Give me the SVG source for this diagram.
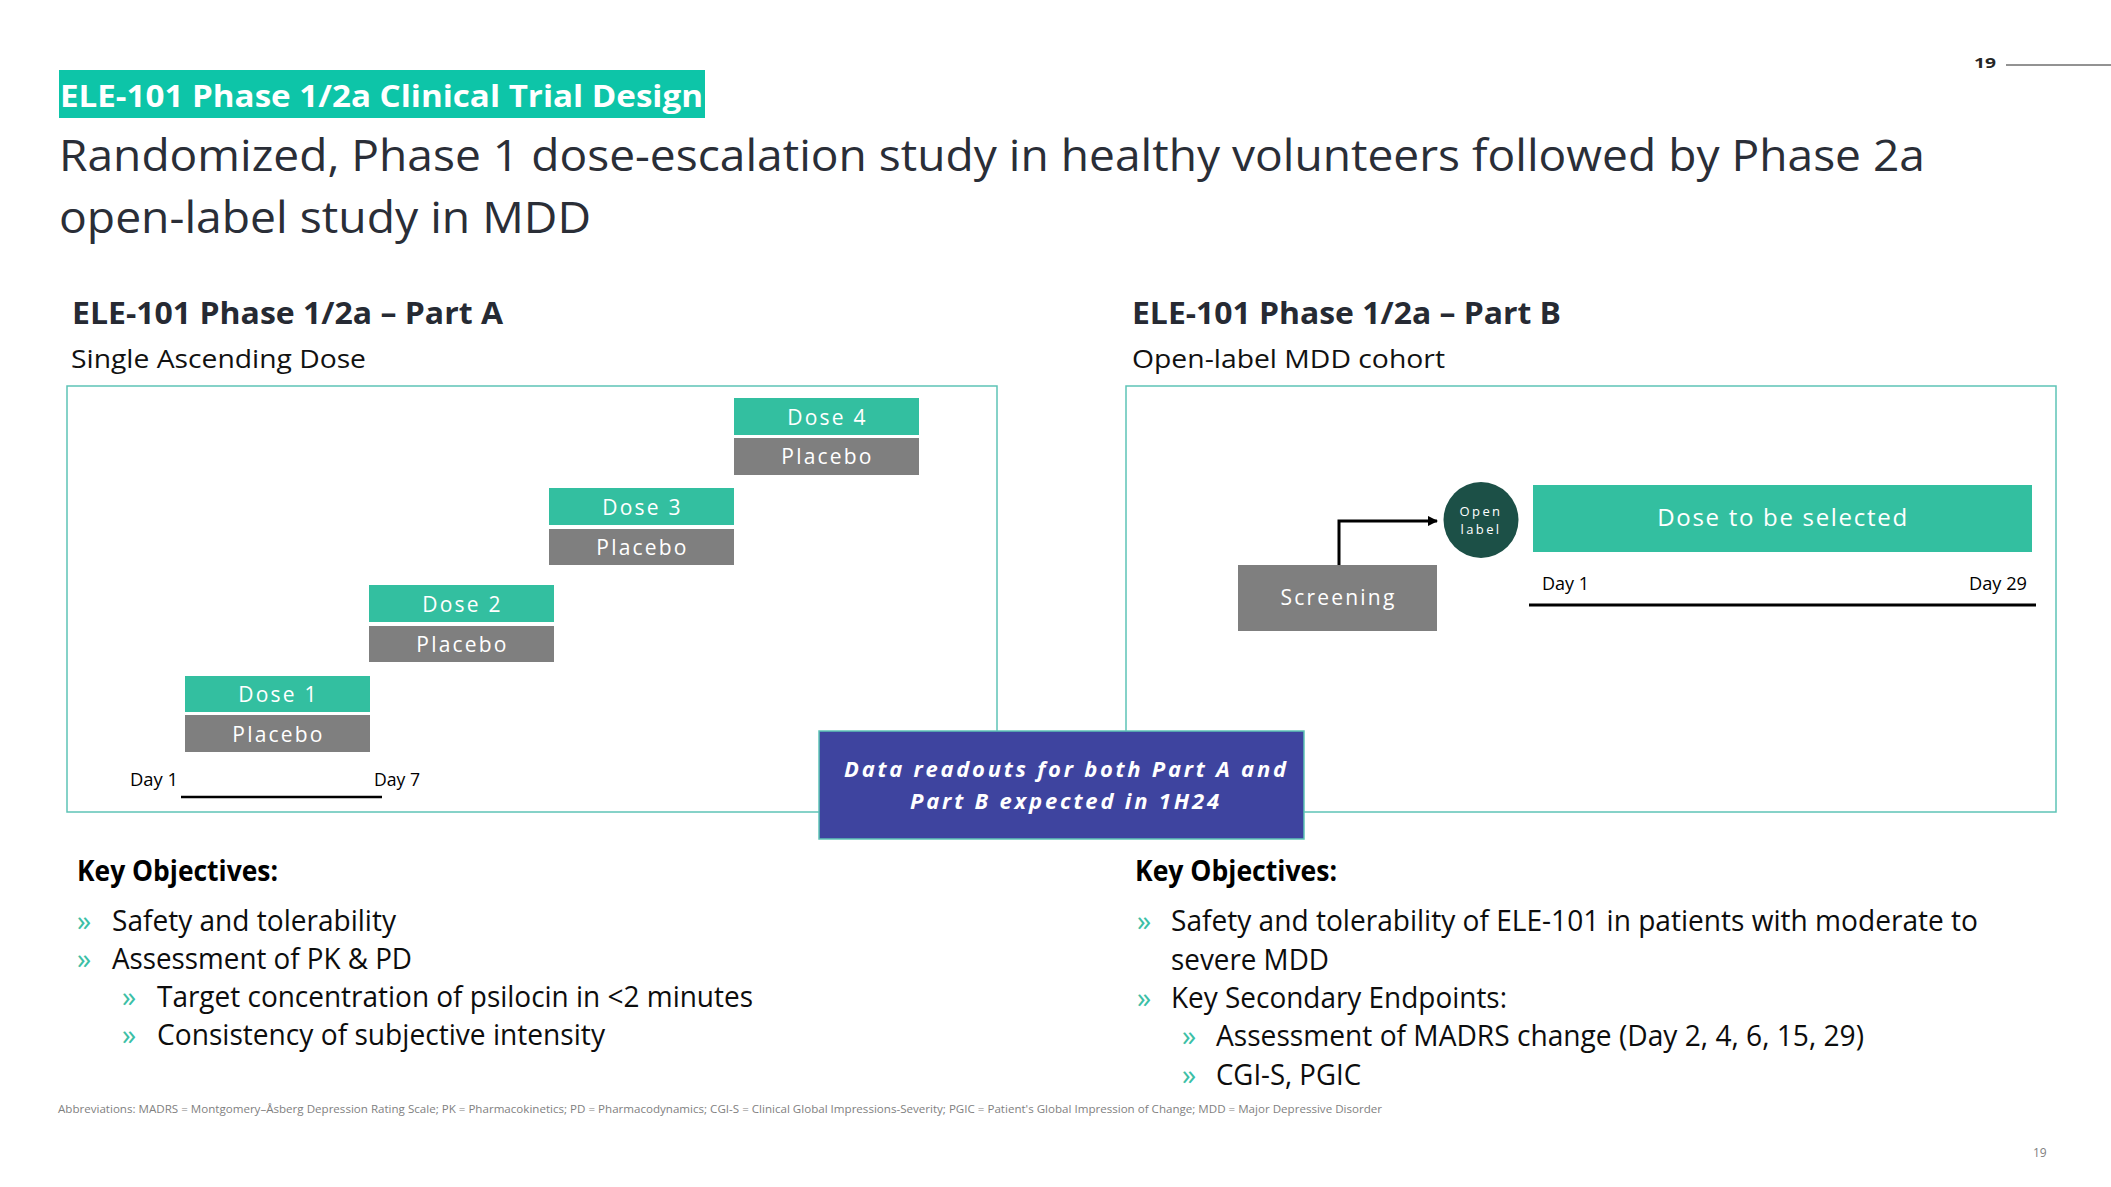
<svg xmlns="http://www.w3.org/2000/svg" width="2111" height="1187" viewBox="0 0 2111 1187">
<style>
text{font-family:"Open Sans","Noto Sans","Liberation Sans",sans-serif}
.lbl{fill:#fff;font-size:21px;letter-spacing:2.2px;text-anchor:middle}
.dose{fill:#33BFA0}
.pbo{fill:#7F7F7F}
.frame{fill:none;stroke:#5EC3B6;stroke-width:1.5}
.day{font-size:19px;fill:#000}
.tl{stroke:#000;stroke-width:2.5}
.hd{font-size:30px;font-weight:700;fill:#262A33}
.sub{font-size:26px;fill:#111}
.ko{font-size:28.5px;font-weight:700;fill:#000}
.bt{font-size:28.5px;fill:#0D0D0D}
.bl{font-size:28.5px;fill:#3CBFA6}
</style>
<defs>
<marker id="arr" viewBox="0 0 10 10" refX="9" refY="5" markerWidth="3.5" markerHeight="3.5" orient="auto" markerUnits="strokeWidth">
<path d="M0,0 L10,5 L0,10 Z" fill="#000"/>
</marker>
</defs>
<rect width="2111" height="1187" fill="#fff"/>

<g id="pagenum-top">
<text x="1974" y="68" font-size="15" font-weight="700" fill="#262626" textLength="22" lengthAdjust="spacingAndGlyphs">19</text>
<line x1="2006" y1="65" x2="2111" y2="65" stroke="#262626" stroke-width="1"/>
</g>

<g id="title">
<rect x="59" y="70" width="646" height="48" fill="#0DC5A8"/>
<text x="60" y="107" font-size="31" font-weight="700" fill="#fff" textLength="643" lengthAdjust="spacingAndGlyphs">ELE-101 Phase 1/2a Clinical Trial Design</text>
<text x="59" y="171" font-size="43" fill="#2A2E37" textLength="1866" lengthAdjust="spacingAndGlyphs">Randomized, Phase 1 dose-escalation study in healthy volunteers followed by Phase 2a</text>
<text x="59" y="233" font-size="43" fill="#2A2E37" textLength="532" lengthAdjust="spacingAndGlyphs">open-label study in MDD</text>
</g>

<g id="partA-header">
<text class="hd" x="72" y="324" textLength="431" lengthAdjust="spacingAndGlyphs">ELE-101 Phase 1/2a – Part A</text>
<text class="sub" x="71" y="368" textLength="295" lengthAdjust="spacingAndGlyphs">Single Ascending Dose</text>
</g>
<g id="partB-header">
<text class="hd" x="1132" y="324" textLength="429" lengthAdjust="spacingAndGlyphs">ELE-101 Phase 1/2a – Part B</text>
<text class="sub" x="1132" y="368" textLength="313" lengthAdjust="spacingAndGlyphs">Open-label MDD cohort</text>
</g>

<g id="partA-frame"><rect class="frame" x="67" y="386" width="930" height="426"/></g>
<g id="partB-frame"><rect class="frame" x="1126" y="386" width="930" height="426"/></g>

<g id="dose4">
<rect class="dose" x="734" y="398" width="185" height="37"/>
<text class="lbl" x="827.5" y="424.5">Dose 4</text>
</g>
<g id="placebo4">
<rect class="pbo" x="734" y="438" width="185" height="37"/>
<text class="lbl" x="827.5" y="464">Placebo</text>
</g>
<g id="dose3">
<rect class="dose" x="549" y="488" width="185" height="37"/>
<text class="lbl" x="642.5" y="514.5">Dose 3</text>
</g>
<g id="placebo3">
<rect class="pbo" x="549" y="529" width="185" height="36"/>
<text class="lbl" x="642.5" y="555">Placebo</text>
</g>
<g id="dose2">
<rect class="dose" x="369" y="585" width="185" height="37"/>
<text class="lbl" x="462.5" y="611.5">Dose 2</text>
</g>
<g id="placebo2">
<rect class="pbo" x="369" y="626" width="185" height="36"/>
<text class="lbl" x="462.5" y="652">Placebo</text>
</g>
<g id="dose1">
<rect class="dose" x="185" y="676" width="185" height="36"/>
<text class="lbl" x="278.5" y="702">Dose 1</text>
</g>
<g id="placebo1">
<rect class="pbo" x="185" y="715" width="185" height="37"/>
<text class="lbl" x="278.5" y="741.5">Placebo</text>
</g>

<g id="partA-timeline">
<text class="day" x="130" y="786" textLength="48" lengthAdjust="spacingAndGlyphs">Day 1</text>
<text class="day" x="374" y="786" textLength="46" lengthAdjust="spacingAndGlyphs">Day 7</text>
<line class="tl" x1="181" y1="797" x2="382" y2="797"/>
</g>

<g id="screening">
<rect class="pbo" x="1238" y="565" width="199" height="66"/>
<text class="lbl" x="1338.5" y="605">Screening</text>
</g>
<g id="open-label">
<ellipse cx="1481" cy="520" rx="37.5" ry="38" fill="#1C5047"/>
<text x="1481" y="516" font-size="13" fill="#fff" letter-spacing="2.4" text-anchor="middle">Open</text>
<text x="1481" y="534" font-size="13" fill="#fff" letter-spacing="2.4" text-anchor="middle">label</text>
</g>
<g id="dose-selected">
<rect class="dose" x="1533" y="485" width="499" height="67"/>
<text x="1783" y="526" font-size="24" fill="#fff" letter-spacing="1.7" text-anchor="middle">Dose to be selected</text>
</g>
<g id="partB-timeline">
<text class="day" x="1542" y="590" textLength="47" lengthAdjust="spacingAndGlyphs">Day 1</text>
<text class="day" x="1969" y="590" textLength="58" lengthAdjust="spacingAndGlyphs">Day 29</text>
<line x1="1529" y1="605" x2="2036" y2="605" stroke="#000" stroke-width="3"/>
</g>

<g id="connectors">
<path d="M1339,565 L1339,521 L1437,521" fill="none" stroke="#000" stroke-width="3" marker-end="url(#arr)"/>
</g>

<g id="readout-callout">
<rect x="819" y="731" width="485" height="108" fill="#3E449F" stroke="#5EC3B6" stroke-width="1.5"/>
<text x="844" y="777" font-size="22" font-weight="700" font-style="italic" fill="#fff" textLength="442">Data readouts for both Part A and</text>
<text x="910" y="809" font-size="22" font-weight="700" font-style="italic" fill="#fff" textLength="309">Part B expected in 1H24</text>
</g>

<g id="objectives-A">
<text class="ko" x="77" y="881" textLength="201" lengthAdjust="spacingAndGlyphs">Key Objectives:</text>
<text class="bl" x="77" y="931">»</text>
<text class="bt" x="112" y="931" textLength="284" lengthAdjust="spacingAndGlyphs">Safety and tolerability</text>
<text class="bl" x="77" y="969">»</text>
<text class="bt" x="112" y="969" textLength="300" lengthAdjust="spacingAndGlyphs">Assessment of PK &amp; PD</text>
<text class="bl" x="122" y="1007">»</text>
<text class="bt" x="157" y="1007" textLength="596" lengthAdjust="spacingAndGlyphs">Target concentration of psilocin in &lt;2 minutes</text>
<text class="bl" x="122" y="1045">»</text>
<text class="bt" x="157" y="1045" textLength="448" lengthAdjust="spacingAndGlyphs">Consistency of subjective intensity</text>
</g>

<g id="objectives-B">
<text class="ko" x="1135" y="881" textLength="202" lengthAdjust="spacingAndGlyphs">Key Objectives:</text>
<text class="bl" x="1137" y="931">»</text>
<text class="bt" x="1171" y="931" textLength="807" lengthAdjust="spacingAndGlyphs">Safety and tolerability of ELE-101 in patients with moderate to</text>
<text class="bt" x="1171" y="970" textLength="158" lengthAdjust="spacingAndGlyphs">severe MDD</text>
<text class="bl" x="1137" y="1008">»</text>
<text class="bt" x="1171" y="1008" textLength="336" lengthAdjust="spacingAndGlyphs">Key Secondary Endpoints:</text>
<text class="bl" x="1182" y="1046">»</text>
<text class="bt" x="1216" y="1046" textLength="648" lengthAdjust="spacingAndGlyphs">Assessment of MADRS change (Day 2, 4, 6, 15, 29)</text>
<text class="bl" x="1182" y="1085">»</text>
<text class="bt" x="1216" y="1085" textLength="145" lengthAdjust="spacingAndGlyphs">CGI-S, PGIC</text>
</g>

<g id="footnote">
<text x="58" y="1113" font-size="11" fill="#7F7F7F" textLength="1324" lengthAdjust="spacingAndGlyphs">Abbreviations: MADRS = Montgomery–Åsberg  Depression Rating Scale; PK = Pharmacokinetics; PD = Pharmacodynamics; CGI-S = Clinical Global Impressions-Severity; PGIC = Patient's Global Impression of Change; MDD = Major Depressive Disorder</text>
</g>
<g id="pagenum-bottom">
<text x="2033" y="1157" font-size="12" fill="#7F7F7F">19</text>
</g>
</svg>
